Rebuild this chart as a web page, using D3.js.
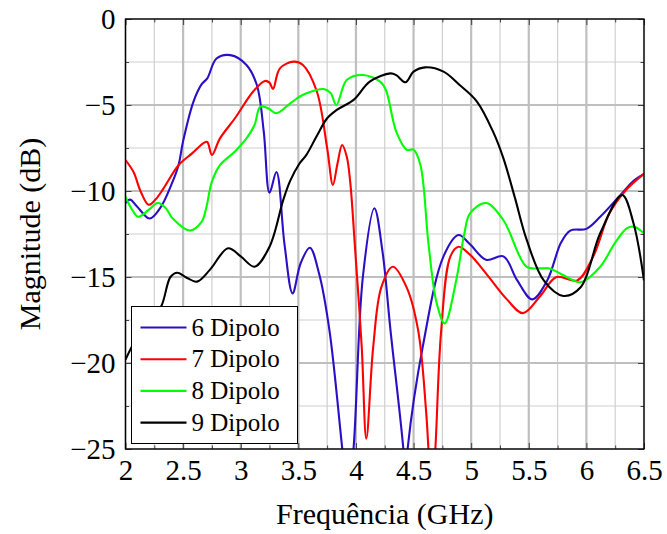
<!DOCTYPE html>
<html>
<head>
<meta charset="utf-8">
<script src="https://cdn.jsdelivr.net/npm/d3@7"></script>
<style>
  body { margin: 0; background: #fff; }
  text { font-family: "Times New Roman", Times, "Liberation Serif", "DejaVu Serif", "Noto Serif", serif; fill: #000; }
</style>
</head>
<body>
<div id="chart"></div>
<script>
// data (x in GHz, y in dB)
const dip6X = [2.0, 2.04, 2.1, 2.21, 2.3, 2.4, 2.46, 2.5, 2.59, 2.66, 2.71, 2.79, 2.91, 3.05, 3.14, 3.2, 3.25, 3.31, 3.38, 3.45, 3.52, 3.6, 3.68, 3.77, 3.88, 3.93, 3.98, 4.06, 4.16, 4.23, 4.3, 4.41, 4.43, 4.45, 4.58, 4.76, 4.89, 4.99, 5.13, 5.28, 5.4, 5.53, 5.66, 5.78, 5.86, 6.0, 6.12, 6.3, 6.41, 6.5];
const dip6Y = [-10.7, -10.5, -10.9, -11.6, -11.0, -9.6, -8.5, -7.1, -4.8, -3.8, -3.45, -2.3, -2.1, -2.67, -3.84, -6.55, -10.1, -8.9, -13.1, -15.95, -14.2, -13.3, -14.8, -18.1, -24.9, -28, -24.9, -15, -11.0, -13.5, -18.1, -24.9, -27, -24.9, -19.05, -13.8, -12.56, -13.1, -14.0, -13.8, -15.2, -16.3, -15.2, -13.0, -12.3, -12.2, -11.5, -10.2, -9.4, -9.0];

const dip7X = [2.0, 2.07, 2.13, 2.2, 2.26, 2.33, 2.46, 2.58, 2.68, 2.71, 2.75, 2.82, 2.95, 3.11, 3.21, 3.25, 3.28, 3.34, 3.46, 3.54, 3.66, 3.75, 3.8, 3.84, 3.88, 3.92, 3.95, 3.99, 4.05, 4.09, 4.15, 4.22, 4.32, 4.44, 4.54, 4.61, 4.66, 4.69, 4.74, 4.82, 4.89, 4.99, 5.13, 5.31, 5.45, 5.6, 5.74, 5.92, 6.06, 6.2, 6.35, 6.5];
const dip7Y = [-8.2, -8.9, -10.0, -10.8, -10.5, -9.85, -8.5, -7.8, -7.2, -7.15, -7.9, -6.94, -5.77, -4.2, -3.6, -3.7, -4.07, -2.87, -2.48, -2.67, -4.2, -7.5, -9.65, -8.4, -7.33, -8.0, -9.46, -13.1, -19.05, -24.4, -19.05, -15.6, -14.4, -15.6, -18.1, -22.9, -28, -24.9, -18.1, -13.8, -13.24, -13.7, -14.8, -16.3, -17.1, -16.1, -15.0, -15.2, -13.8, -11.3, -9.9, -9.0];

const dip8X = [2.0, 2.05, 2.11, 2.2, 2.28, 2.35, 2.41, 2.56, 2.66, 2.7, 2.75, 2.82, 2.95, 3.05, 3.12, 3.17, 3.24, 3.31, 3.43, 3.51, 3.57, 3.72, 3.78, 3.83, 3.92, 4.06, 4.21, 4.26, 4.35, 4.44, 4.5, 4.56, 4.63, 4.7, 4.77, 4.87, 4.94, 4.99, 5.13, 5.28, 5.48, 5.6, 5.68, 5.8, 5.95, 6.12, 6.25, 6.35, 6.41, 6.5];
const dip8Y = [-10.33, -11.0, -11.5, -11.1, -10.7, -11.0, -11.6, -12.3, -11.8, -11.0, -9.46, -8.5, -7.7, -6.94, -6.16, -5.1, -5.2, -5.48, -4.9, -4.52, -4.32, -4.07, -4.3, -5.0, -3.55, -3.26, -3.64, -4.13, -6.55, -7.6, -7.6, -8.5, -13.1, -16.5, -17.7, -15.2, -12.5, -11.3, -10.7, -11.7, -14.4, -14.5, -14.5, -14.9, -15.3, -14.4, -13.0, -12.17, -12.07, -12.46];

const dip9X = [2.0, 2.1, 2.2, 2.31, 2.39, 2.45, 2.52, 2.62, 2.73, 2.89, 3.0, 3.12, 3.25, 3.37, 3.43, 3.51, 3.57, 3.66, 3.75, 3.83, 3.98, 4.12, 4.3, 4.35, 4.43, 4.5, 4.6, 4.76, 4.9, 5.05, 5.19, 5.28, 5.38, 5.48, 5.63, 5.8, 5.95, 6.12, 6.31, 6.41, 6.5];
const dip9Y = [-19.8, -18.5, -17.6, -16.7, -15.0, -14.75, -15.0, -15.27, -14.6, -13.33, -13.8, -14.4, -13.24, -10.5, -9.4, -8.4, -7.9, -6.8, -5.77, -5.3, -4.7, -3.64, -3.16, -3.26, -3.68, -3.06, -2.81, -3.06, -3.84, -4.8, -6.55, -8.1, -10.4, -12.8, -15.2, -16.1, -15.6, -12.46, -10.23, -11.9, -15.2];

const seriesNames = ["6 Dipolo", "7 Dipolo", "8 Dipolo", "9 Dipolo"];
const seriesColors = ["#2a0fc6", "#ff0000", "#00ff00", "#000000"];
const xTicks = [2, 2.5, 3, 3.5, 4, 4.5, 5, 5.5, 6, 6.5];
const yTicks = [0, -5, -10, -15, -20, -25];

const series = [
  { name: seriesNames[0], color: seriesColors[0], values: dip6X.map((x, i) => ({ x, y: dip6Y[i] })) },
  { name: seriesNames[1], color: seriesColors[1], values: dip7X.map((x, i) => ({ x, y: dip7Y[i] })) },
  { name: seriesNames[2], color: seriesColors[2], values: dip8X.map((x, i) => ({ x, y: dip8Y[i] })) },
  { name: seriesNames[3], color: seriesColors[3], values: dip9X.map((x, i) => ({ x, y: dip9Y[i] })) }
];

const serif = "'Times New Roman', Times, 'Liberation Serif', 'DejaVu Serif', 'Noto Serif', serif";
const width = 667, height = 534;
const margin = { top: 19, right: 23, bottom: 85, left: 125.5 };
const w = width - margin.left - margin.right;
const h = height - margin.top - margin.bottom;

const svg = d3.select("#chart").append("svg")
  .attr("width", width)
  .attr("height", height);

const g = svg.append("g")
  .attr("transform", "translate(" + margin.left + "," + margin.top + ")");

const xScale = d3.scaleLinear().domain([2, 6.5]).range([0, w]);
const yScale = d3.scaleLinear().domain([-25, 0]).range([h, 0]);

// grid: minor first, then major
const xMinor = d3.range(2.25, 6.5, 0.5);
const yMinor = d3.range(-22.5, 0, 5);

g.append("g").selectAll("line").data(xMinor).join("line")
  .attr("x1", d => xScale(d)).attr("x2", d => xScale(d))
  .attr("y1", 0).attr("y2", h)
  .attr("stroke", "#cfcfcf").attr("stroke-width", 1.2);
g.append("g").selectAll("line").data(yMinor).join("line")
  .attr("x1", 0).attr("x2", w)
  .attr("y1", d => yScale(d)).attr("y2", d => yScale(d))
  .attr("stroke", "#cfcfcf").attr("stroke-width", 1.2);
g.append("g").selectAll("line").data(xTicks).join("line")
  .attr("x1", d => xScale(d)).attr("x2", d => xScale(d))
  .attr("y1", 0).attr("y2", h)
  .attr("stroke", "#bfbfbf").attr("stroke-width", 2.2);
g.append("g").selectAll("line").data(yTicks).join("line")
  .attr("x1", 0).attr("x2", w)
  .attr("y1", d => yScale(d)).attr("y2", d => yScale(d))
  .attr("stroke", "#bfbfbf").attr("stroke-width", 2.2);

// inward ticks on all sides
const fmt = d => String(d).replace("-", "\u2212");
const tickAxes = [
  { axis: d3.axisBottom(xScale).tickValues(xTicks).tickSize(-6).tickPadding(10).tickFormat(fmt), t: "translate(0," + h + ")" },
  { axis: d3.axisTop(xScale).tickValues(xTicks).tickSize(-6).tickFormat(""), t: "translate(0,0)" },
  { axis: d3.axisLeft(yScale).tickValues(yTicks).tickSize(-6).tickPadding(10).tickFormat(fmt), t: "translate(0,0)" },
  { axis: d3.axisRight(yScale).tickValues(yTicks).tickSize(-6).tickFormat(""), t: "translate(" + w + ",0)" },
  { axis: d3.axisBottom(xScale).tickValues(xMinor).tickSize(-3.5).tickFormat(""), t: "translate(0," + h + ")" },
  { axis: d3.axisTop(xScale).tickValues(xMinor).tickSize(-3.5).tickFormat(""), t: "translate(0,0)" },
  { axis: d3.axisLeft(yScale).tickValues(yMinor).tickSize(-3.5).tickFormat(""), t: "translate(0,0)" },
  { axis: d3.axisRight(yScale).tickValues(yMinor).tickSize(-3.5).tickFormat(""), t: "translate(" + w + ",0)" }
];
tickAxes.forEach(a => {
  const ag = g.append("g").attr("transform", a.t).call(a.axis.tickSizeOuter(0));
  ag.attr("font-family", serif).attr("font-size", 29);
  ag.select(".domain").remove();
  ag.selectAll("line").attr("stroke", "#404040").attr("stroke-width", 1);
  ag.selectAll("text")
    .style("font-family", serif)
    .style("font-size", "29px")
    .attr("fill", "#000");
});

// curves
g.append("clipPath").attr("id", "plotClip")
  .append("rect").attr("width", w).attr("height", h);

const line = d3.line()
  .x(d => xScale(d.x))
  .y(d => yScale(d.y))
  .curve(d3.curveCatmullRom.alpha(0.5));

g.append("g").attr("clip-path", "url(#plotClip)")
  .selectAll("path").data(series).join("path")
  .attr("d", d => line(d.values))
  .attr("fill", "none")
  .attr("stroke", d => d.color)
  .attr("stroke-width", 2.1)
  .attr("stroke-linejoin", "round");

// frame
g.append("rect")
  .attr("width", w).attr("height", h)
  .attr("fill", "none").attr("stroke", "#000").attr("stroke-width", 1.3);

// legend
const legend = svg.append("g").attr("transform", "translate(131.5,306.5)");
legend.append("rect")
  .attr("width", 166).attr("height", 137)
  .attr("fill", "#fff").attr("stroke", "#000").attr("stroke-width", 1);
const rows = legend.selectAll("g.row").data(series).join("g")
  .attr("class", "row")
  .attr("transform", (d, i) => "translate(0," + (21 + i * 31.7) + ")");
rows.append("line")
  .attr("x1", 9).attr("x2", 55)
  .attr("stroke", d => d.color).attr("stroke-width", 2.1);
rows.append("text")
  .attr("x", 60).attr("dy", "0.33em")
  .style("font-family", serif)
  .style("font-size", "25px")
  .text(d => d.name);

// axis titles
svg.append("text")
  .attr("x", margin.left + w / 2).attr("y", 524)
  .attr("text-anchor", "middle")
  .style("font-family", serif)
  .style("font-size", "30px")
  .text("Frequência (GHz)");

svg.append("text")
  .attr("transform", "translate(40," + (margin.top + h / 2) + ") rotate(-90)")
  .attr("text-anchor", "middle")
  .style("font-family", serif)
  .style("font-size", "30px")
  .text("Magnitude (dB)");
</script>
</body>
</html>
